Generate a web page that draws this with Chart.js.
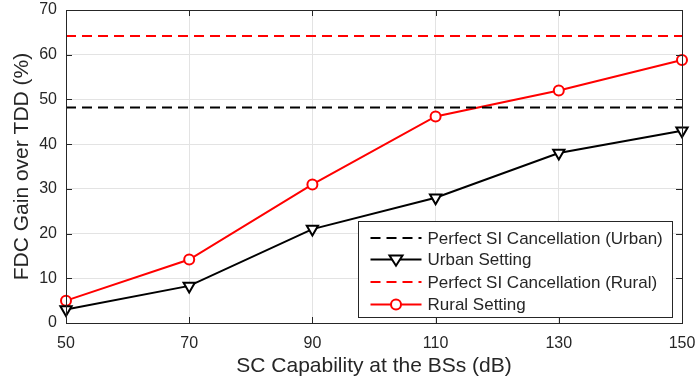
<!DOCTYPE html>
<html>
<head>
<meta charset="utf-8">
<script src="https://cdn.jsdelivr.net/npm/chart.js@4/dist/chart.umd.min.js"></script>
<style>
  html, body { margin: 0; padding: 0; background: #fff; }
  #wrap { width: 697px; height: 382px; position: relative; }
</style>
</head>
<body>
<div id="wrap"><canvas id="c" width="697" height="382"></canvas></div>
<script>
// SC capability at the base stations (dB)
const scCapability = [50, 70, 90, 110, 130, 150];
// FDC gain over TDD (%)
const urbanGain = [3, 8.3, 21, 28, 38, 43];
const ruralGain = [5, 14.2, 31, 46.2, 52, 58.8];
// Upper bounds with perfect SI cancellation (%)
const perfectUrban = 48.2;
const perfectRural = 64.2;

const seriesLabels = [
  'Perfect SI Cancellation (Urban)',
  'Urban Setting',
  'Perfect SI Cancellation (Rural)',
  'Rural Setting'
];

const FONT = '"Liberation Sans", Arial, Helvetica, sans-serif';
const INK = '#262626';

const xy = (xs, ys) => xs.map((x, i) => ({ x, y: ys[i] }));
const flat = (xs, v) => [{ x: xs[0], y: v }, { x: xs[xs.length - 1], y: v }];

// Keep the plot box fixed: no extra room reserved for overhanging labels
function noOverhang(s) {
  s.paddingLeft = 0; s.paddingRight = 0; s.paddingTop = 0; s.paddingBottom = 0;
}

// Box, inward tick marks and in-axes legend, MATLAB style
const axesDecor = {
  id: 'axesDecor',
  afterDatasetsDraw(chart) {
    const { ctx, chartArea: a, scales } = chart;
    ctx.save();
    ctx.strokeStyle = INK;
    ctx.lineWidth = 1;
    ctx.beginPath();
    const L = 6;
    scales.x.ticks.forEach(t => {
      const px = Math.round(scales.x.getPixelForValue(t.value)) + 0.5;
      ctx.moveTo(px, a.bottom); ctx.lineTo(px, a.bottom - L);
      ctx.moveTo(px, a.top); ctx.lineTo(px, a.top + L);
    });
    scales.y.ticks.forEach(t => {
      const py = Math.round(scales.y.getPixelForValue(t.value)) + 0.5;
      ctx.moveTo(a.left, py); ctx.lineTo(a.left + L, py);
      ctx.moveTo(a.right, py); ctx.lineTo(a.right - L, py);
    });
    ctx.stroke();
    ctx.strokeRect(Math.round(a.left) + 0.5, Math.round(a.top) + 0.5,
                   Math.round(a.right - a.left), Math.round(a.bottom - a.top));
    ctx.restore();

    // legend
    const bw = 314, bh = 96;
    const bx = Math.round(a.right - 10 - bw) + 0.5;
    const by = Math.round(a.bottom - 6 - bh) + 0.5;
    ctx.save();
    ctx.fillStyle = '#fff';
    ctx.fillRect(bx, by, bw, bh);
    ctx.strokeStyle = INK;
    ctx.lineWidth = 1;
    ctx.strokeRect(bx, by, bw, bh);
    ctx.font = '17px ' + FONT;
    ctx.textBaseline = 'middle';
    const rowY = [16.5, 38, 60.5, 83];
    chart.data.datasets.forEach((ds, i) => {
      const y = by + rowY[i];
      const x0 = bx + 12, x1 = bx + 63;
      ctx.strokeStyle = ds.borderColor;
      ctx.lineWidth = 2;
      ctx.setLineDash(ds.borderDash || []);
      ctx.beginPath(); ctx.moveTo(x0, y); ctx.lineTo(x1, y); ctx.stroke();
      ctx.setLineDash([]);
      const mx = (x0 + x1) / 2;
      if (ds.pointStyle === 'circle') {
        ctx.fillStyle = '#fff';
        ctx.beginPath(); ctx.arc(mx, y, 5, 0, Math.PI * 2); ctx.fill(); ctx.stroke();
      } else if (ds.pointStyle === 'triangle') {
        const r = 6.5;
        ctx.fillStyle = '#fff';
        ctx.beginPath();
        ctx.moveTo(mx - r, y - r * 0.6);
        ctx.lineTo(mx + r, y - r * 0.6);
        ctx.lineTo(mx, y + r * 0.95);
        ctx.closePath(); ctx.fill(); ctx.stroke();
      }
      ctx.fillStyle = INK;
      ctx.fillText(ds.label, bx + 69, y + 1);
    });
    ctx.restore();
  }
};

new Chart(document.getElementById('c'), {
  type: 'line',
  data: {
    datasets: [
      {
        label: seriesLabels[0], data: flat(scCapability, perfectUrban),
        borderColor: '#000', borderWidth: 2, borderDash: [10, 6],
        pointRadius: 0, pointStyle: false
      },
      {
        label: seriesLabels[1], data: xy(scCapability, urbanGain),
        borderColor: '#000', borderWidth: 2, pointStyle: 'triangle', rotation: 180,
        pointRadius: 6.5, pointBorderWidth: 2, pointBackgroundColor: '#fff',
        pointBorderColor: '#000'
      },
      {
        label: seriesLabels[2], data: flat(scCapability, perfectRural),
        borderColor: '#ff0000', borderWidth: 2, borderDash: [10, 6],
        pointRadius: 0, pointStyle: false
      },
      {
        label: seriesLabels[3], data: xy(scCapability, ruralGain),
        borderColor: '#ff0000', borderWidth: 2, pointStyle: 'circle',
        pointRadius: 5, pointBorderWidth: 2, pointBackgroundColor: '#fff',
        pointBorderColor: '#ff0000'
      }
    ]
  },
  options: {
    responsive: false,
    animation: false,
    clip: false,
    layout: { padding: { left: 0, right: 15, top: 10, bottom: 0 } },
    plugins: { legend: { display: false }, tooltip: { enabled: false } },
    elements: { line: { tension: 0 } },
    scales: {
      x: {
        type: 'linear', min: 50, max: 150,
        afterFit(s) { s.height = 59; noOverhang(s); },
        afterBuildTicks(s) { s.ticks = scCapability.map(v => ({ value: v })); },
        grid: { color: '#e3e3e3', drawTicks: false },
        border: { display: false },
        ticks: { color: INK, font: { family: FONT, size: 16 }, padding: 11, maxRotation: 0 },
        title: {
          display: true, text: 'SC Capability at the BSs (dB)', color: INK,
          font: { family: FONT, size: 21 }, padding: { top: 0, bottom: 3 }
        }
      },
      y: {
        min: 0, max: 70,
        afterFit(s) { s.width = 66; noOverhang(s); },
        grid: { color: '#e3e3e3', drawTicks: false },
        border: { display: false },
        ticks: { color: INK, font: { family: FONT, size: 16 }, padding: 9, stepSize: 10 },
        title: {
          display: true, text: 'FDC Gain over TDD (%)', color: INK,
          font: { family: FONT, size: 21 }, padding: { top: 10, bottom: 0 }
        }
      }
    }
  },
  plugins: [axesDecor]
});
</script>
</body>
</html>
